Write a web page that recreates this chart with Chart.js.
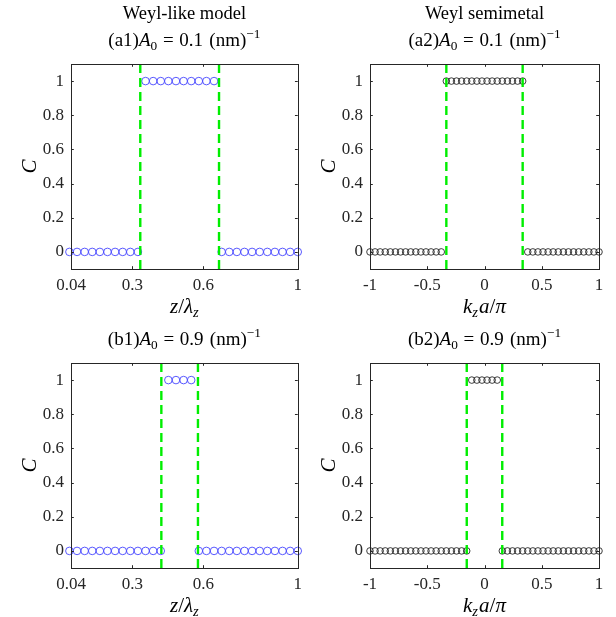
<!DOCTYPE html>
<html><head><meta charset="utf-8">
<script src="https://cdn.jsdelivr.net/npm/chart.js@4"></script>
<style>
html,body{margin:0;padding:0;background:#fff;overflow:hidden;}
#wrap{position:relative;width:616px;height:617px;}
canvas{position:absolute;}
</style></head><body>
<div id="wrap">
<canvas id="cA1" width="308" height="317" style="left:0;top:0"></canvas>
<canvas id="cA2" width="308" height="317" style="left:308px;top:0"></canvas>
<canvas id="cB1" width="308" height="317" style="left:0;top:300px"></canvas>
<canvas id="cB2" width="308" height="317" style="left:308px;top:300px"></canvas>
</div>
<script>
// ---------------- data ----------------
const zGrid = [0.0333,0.0656,0.0978,0.1300,0.1622,0.1944,0.2267,0.2589,0.2911,0.3233,0.3556,0.3878,0.4200,0.4522,0.4844,0.5167,0.5489,0.5811,0.6133,0.6456,0.6778,0.7100,0.7422,0.7744,0.8067,0.8389,0.8711,0.9033,0.9356,0.9678,1.0000];
const kzGrid = [-1,-0.9556,-0.9111,-0.8667,-0.8222,-0.7778,-0.7333,-0.6889,-0.6444,-0.6,-0.5556,-0.5111,-0.4667,-0.4222,-0.3778,-0.3333,-0.2889,-0.2444,-0.2,-0.1556,-0.1111,-0.0667,-0.0222,0.0222,0.0667,0.1111,0.1556,0.2,0.2444,0.2889,0.3333,0.3778,0.4222,0.4667,0.5111,0.5556,0.6,0.6444,0.6889,0.7333,0.7778,0.8222,0.8667,0.9111,0.9556,1];
const chernA1 = [0,0,0,0,0,0,0,0,0,0,1,1,1,1,1,1,1,1,1,1,0,0,0,0,0,0,0,0,0,0,0];
const chernB1 = [0,0,0,0,0,0,0,0,0,0,0,0,0,1,1,1,1,0,0,0,0,0,0,0,0,0,0,0,0,0,0];
const chernA2 = [0,0,0,0,0,0,0,0,0,0,0,0,0,0,0,1,1,1,1,1,1,1,1,1,1,1,1,1,1,1,1,0,0,0,0,0,0,0,0,0,0,0,0,0,0,0];
const chernB2 = [0,0,0,0,0,0,0,0,0,0,0,0,0,0,0,0,0,0,0,0,1,1,1,1,1,1,0,0,0,0,0,0,0,0,0,0,0,0,0,0,0,0,0,0,0,0];
const nodesA1 = [0.3333, 0.6667];
const nodesB1 = [0.4225, 0.5775];
const nodesA2 = [-0.3333, 0.3333];
const nodesB2 = [-0.155, 0.155];
const yTicks = [0, 0.2, 0.4, 0.6, 0.8, 1];
const yTickLabels = ['0', '0.2', '0.4', '0.6', '0.8', '1'];
const zTicks = [0.04, 0.3, 0.6, 1];
const zTickLabels = ['0.04', '0.3', '0.6', '1'];
const kzTicks = [-1, -0.5, 0, 0.5, 1];
const kzTickLabels = ['-1', '-0.5', '0', '0.5', '1'];
const headA1 = 'Weyl-like model';
const headA2 = 'Weyl semimetal';
const labelA1 = 'a1', labelA2 = 'a2', labelB1 = 'b1', labelB2 = 'b2';
const a0Top = '0.1', a0Bottom = '0.9';

// ---------------- drawing helpers ----------------
const SERIF = '"Liberation Serif", "Times New Roman", serif';
function richWidth(ctx, segs, size) {
  let w = 0;
  for (const s of segs) {
    ctx.font = (s.it ? 'italic ' : '') + (size * (s.sc || 1)) + 'px ' + SERIF;
    w += ctx.measureText(s.t).width + (s.gap || 0) * size;
  }
  return w;
}
function drawRich(ctx, segs, cx, by, size) {
  const w = richWidth(ctx, segs, size);
  let x = cx - w / 2;
  ctx.textAlign = 'left';
  ctx.textBaseline = 'alphabetic';
  for (const s of segs) {
    ctx.font = (s.it ? 'italic ' : '') + (size * (s.sc || 1)) + 'px ' + SERIF;
    ctx.fillText(s.t, x, by + (s.dy || 0) * size);
    x += ctx.measureText(s.t).width + (s.gap || 0) * size;
  }
}
function titleSegs(lbl, a0) {
  return [
    {t: '(' + lbl + ')'},
    {t: 'A', it: true},
    {t: '0', sc: 0.7, dy: 0.2, gap: 0.3},
    {t: '=', gap: 0.3},
    {t: a0, gap: 0.33},
    {t: '(nm)'},
    {t: '\u22121', sc: 0.7, dy: -0.42}
  ];
}
const zLabelSegs = [{t: 'z', it: true}, {t: '/'}, {t: '\u03bb', it: true}, {t: 'z', it: true, sc: 0.7, dy: 0.2}];
const kzLabelSegs = [{t: 'k', it: true}, {t: 'z', it: true, sc: 0.7, dy: 0.2, gap: 0.05}, {t: 'a', it: true}, {t: '/'}, {t: '\u03c0', it: true}];

const framePlugin = {
  id: 'frame',
  afterDraw(chart) {
    const o = chart.options.plugins.frame;
    const ctx = chart.ctx;
    const ca = chart.chartArea;
    const xs = chart.scales.x, ys = chart.scales.y;
    ctx.save();
    // box
    ctx.strokeStyle = '#262626';
    ctx.lineWidth = 1;
    ctx.strokeRect(Math.round(ca.left) + 0.5, Math.round(ca.top) + 0.5, Math.round(ca.right - ca.left), Math.round(ca.bottom - ca.top));
    // inward ticks
    const tl = 2.8;
    ctx.beginPath();
    for (const v of o.xt) {
      const px = Math.round(xs.getPixelForValue(v)) + 0.5;
      ctx.moveTo(px, ca.bottom); ctx.lineTo(px, ca.bottom - tl);
      ctx.moveTo(px, ca.top); ctx.lineTo(px, ca.top + tl);
    }
    for (const v of yTicks) {
      const py = Math.round(ys.getPixelForValue(v)) + 0.5;
      ctx.moveTo(ca.left, py); ctx.lineTo(ca.left + tl, py);
      ctx.moveTo(ca.right, py); ctx.lineTo(ca.right - tl, py);
    }
    ctx.stroke();
    ctx.fillStyle = '#000';
    const cx = (ca.left + ca.right) / 2;
    // titles
    if (o.head) {
      ctx.font = '18.5px ' + SERIF;
      ctx.textAlign = 'center';
      ctx.textBaseline = 'alphabetic';
      ctx.fillText(o.head, cx, ca.top - 45);
    }
    drawRich(ctx, o.title, cx, ca.top - 18, 19);
    // x label
    drawRich(ctx, o.xl, cx, ca.bottom + 44, 21);
    // y label
    ctx.save();
    ctx.translate(ca.left - 35, (ca.top + ca.bottom) / 2);
    ctx.rotate(-Math.PI / 2);
    drawRich(ctx, [{t: 'C', it: true}], 0, 0, 21);
    ctx.restore();
    ctx.restore();
  }
};

function makeChart(id, xGrid, cVals, nodes, xMin, xMax, xt, xtl, color, radius, head, title, xl, caLeft, caRight, caTop, caBottom) {
  const W = 308, H = 317;
  const datasets = [];
  nodes.forEach(n => datasets.push({
    data: [{x: n, y: -0.1}, {x: n, y: 1.1}],
    showLine: true, borderColor: '#00ee00', borderWidth: 2.4, borderDash: [9, 5],
    pointRadius: 0, order: 0, clip: true
  }));
  datasets.push({
    data: xGrid.map((x, i) => ({x: x, y: cVals[i]})),
    showLine: false, pointStyle: 'circle', pointRadius: radius,
    pointBorderColor: color, pointBackgroundColor: 'rgba(0,0,0,0)', pointBorderWidth: 0.9,
    order: 1, clip: false
  });
  return new Chart(document.getElementById(id), {
    type: 'scatter',
    data: {datasets},
    plugins: [framePlugin],
    options: {
      responsive: false, animation: false, devicePixelRatio: 1,
      layout: {padding: {left: 0, top: caTop, right: W - caRight, bottom: 0}},
      plugins: {
        legend: {display: false}, tooltip: {enabled: false}, title: {display: false},
        frame: {xt, head, title, xl}
      },
      scales: {
        x: {
          type: 'linear', min: xMin, max: xMax,
          grid: {display: false, drawTicks: false, tickLength: 0},
          border: {display: false},
          afterBuildTicks: a => { a.ticks = xt.map(v => ({value: v})); },
          afterFit: a => { a.height = H - caBottom; },
          ticks: {
            autoSkip: false, maxRotation: 0, padding: 6, color: '#262626',
            font: {family: SERIF, size: 17},
            callback: (v, i) => xtl[i]
          }
        },
        y: {
          type: 'linear', min: -0.1, max: 1.1,
          grid: {display: false, drawTicks: false, tickLength: 0},
          border: {display: false},
          afterBuildTicks: a => { a.ticks = yTicks.map(v => ({value: v})); },
          afterFit: a => { a.width = caLeft; },
          ticks: {
            autoSkip: false, padding: 7, color: '#262626',
            font: {family: SERIF, size: 17},
            callback: (v, i) => yTickLabels[i]
          }
        }
      }
    }
  });
}

makeChart('cA1', zGrid, chernA1, nodesA1, 0.04, 1, zTicks, zTickLabels, 'rgb(70,70,255)', 3.8, headA1, titleSegs(labelA1, a0Top), zLabelSegs, 71, 298, 64, 269);
makeChart('cA2', kzGrid, chernA2, nodesA2, -1, 1, kzTicks, kzTickLabels, 'rgb(40,40,40)', 3.3, headA2, titleSegs(labelA2, a0Top), kzLabelSegs, 62, 291, 64, 269);
makeChart('cB1', zGrid, chernB1, nodesB1, 0.04, 1, zTicks, zTickLabels, 'rgb(70,70,255)', 3.8, null, titleSegs(labelB1, a0Bottom), zLabelSegs, 71, 298, 63, 268);
makeChart('cB2', kzGrid, chernB2, nodesB2, -1, 1, kzTicks, kzTickLabels, 'rgb(40,40,40)', 3.3, null, titleSegs(labelB2, a0Bottom), kzLabelSegs, 62, 291, 63, 268);
</script>
</body></html>
